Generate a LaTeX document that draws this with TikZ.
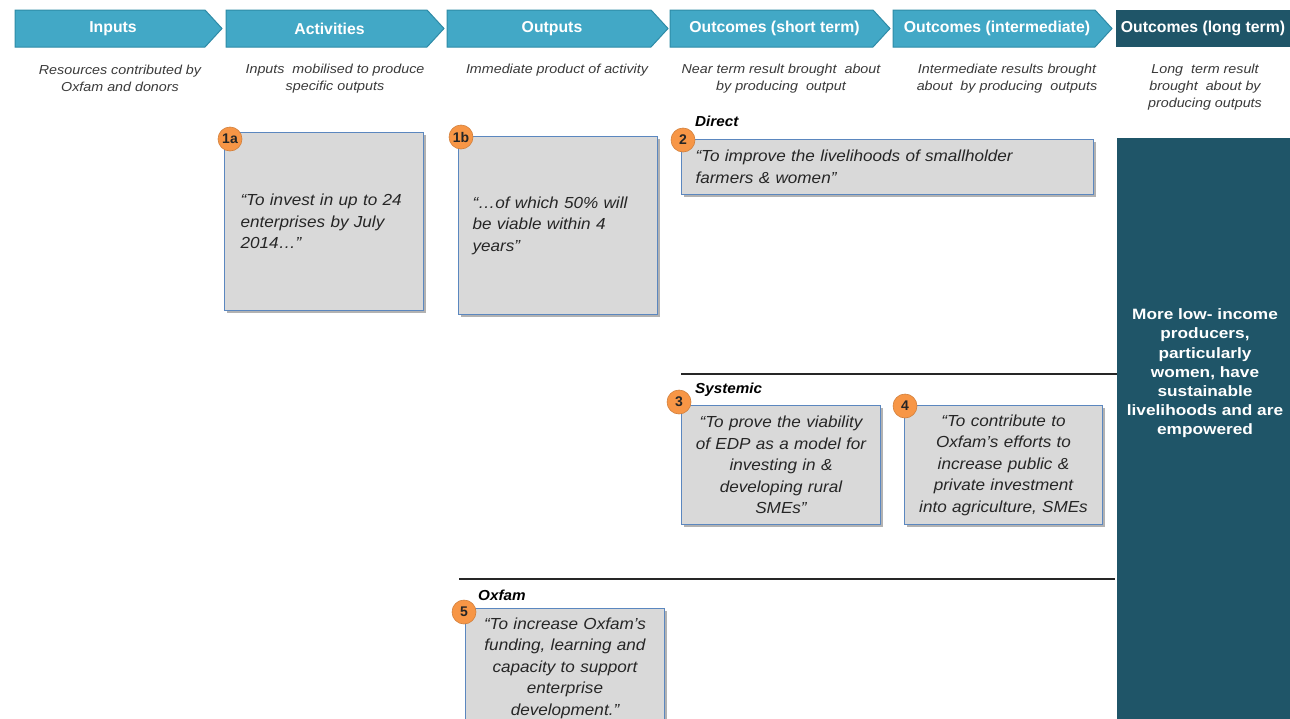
\documentclass[tikz,border=0pt]{standalone}
\usepackage{fontspec}
\setmainfont{Liberation Sans}
\newfontfamily\descfont[FakeStretch=1.1]{Liberation Sans}
\newfontfamily\quotefont[FakeStretch=1.07]{Liberation Sans}
\newfontfamily\ltfont[FakeStretch=1.15]{Liberation Sans}
\newfontfamily\grpfont[FakeStretch=1.05]{Liberation Sans}
\usetikzlibrary{shadows}
\definecolor{tealA}{HTML}{42A8C6}
\definecolor{tealAd}{HTML}{2E8BA7}
\definecolor{tealdark}{HTML}{1F5568}
\definecolor{boxgray}{HTML}{D9D9D9}
\definecolor{boxblue}{HTML}{5B87BF}
\definecolor{badgeor}{HTML}{F79646}
\definecolor{desc}{HTML}{3A3A3A}
\newcommand{\mychev}[4]{%
  \draw[chevshape] (#1,10) -- (#2-17,10) -- (#2,28.5) -- (#2-17,47) -- (#1,47) -- cycle;
  \node[chevtext] (#4) at ({(#1+#2-17)/2+3},28.5) {#3};}
\begin{document}
\begin{tikzpicture}[x=1pt,y=-1pt,
 chevshape/.style={fill=tealA,draw=tealAd,line width=1pt},
 chevtext/.style={text=white,font=\fontsize{15.8}{18}\selectfont\bfseries,inner sep=0pt},
 desctext/.style={text=desc,font=\descfont\fontsize{13}{17}\selectfont\itshape,align=center,inner sep=0pt},
 quotebox/.style={draw=boxblue,line width=1pt,fill=boxgray,
   drop shadow={shadow xshift=2pt,shadow yshift=-2.5pt,opacity=0.3,fill=black},
   text=black!85,font=\quotefont\fontsize{16}{21.5}\selectfont\itshape,inner ysep=0pt,anchor=north west},
 badgenode/.style={circle,fill=badgeor,draw=badgeor!85!black,line width=0.6pt,minimum size=24pt,inner sep=0pt,
   font=\fontsize{14}{14}\selectfont\bfseries,text=black!85},
 grouplabel/.style={font=\grpfont\fontsize{14.5}{16}\selectfont\bfseries\itshape,anchor=west,inner sep=0pt},
 divider/.style={line width=1.2pt,draw=black!85}]
\useasboundingbox (0,0) rectangle (1290,718);
\clip (0,0) rectangle (1290,718);
\fill[white] (0,0) rectangle (1290,718);

% header chevrons
\mychev{15}{222}{Inputs}{hIn}
\mychev{226}{444}{Activities}{hAct}
\mychev{447}{668}{Outputs}{hOut}
\mychev{670}{890}{Outcomes (short term)}{hShort}
\mychev{893}{1112}{Outcomes (intermediate)}{hInt}
\node[fill=tealdark,anchor=north west,minimum width=174pt,minimum height=37pt,inner sep=0pt] (hLongBox) at (1116,10) {};
\node[chevtext] (hLong) at (1203,28.5) {Outcomes (long term)};

% descriptions
\node[desctext] (dIn) at (120,78.5) {Resources contributed by\\Oxfam and donors};
\node[desctext] (dAct) at (335,78.5) {Inputs\ \ mobilised to produce\\specific outputs};
\node[desctext] (dOut) at (557,70) {Immediate product of activity};
\node[desctext] (dShort) at (781,78.5) {Near term result brought\ \ about\\by producing\ \ output};
\node[desctext] (dInt) at (1007,78.5) {Intermediate results brought\\about\ \ by producing\ \ outputs};
\node[desctext] (dLong) at (1205,87) {Long\ \ term result\\brought\ \ about by\\producing outputs};

% long-term outcome box
\node[fill=tealdark,anchor=north west,minimum width=174pt,minimum height=600pt,inner sep=0pt] (lt) at (1117,138) {};
\node[text=white,font=\ltfont\fontsize{15}{19.2}\selectfont\bfseries,align=center,inner sep=0pt] (ltText) at (1205,373.5)
 {More low- income\\producers,\\particularly\\women, have\\sustainable\\livelihoods and are\\empowered};

% quote boxes
\node[quotebox,minimum width=199pt,minimum height=178pt,text width=167pt,inner xsep=16pt,align=left] (b1a) at (224,132)
 {“To invest in up to 24\\enterprises by July\\2014…”};
\node[quotebox,minimum width=199pt,minimum height=178pt,text width=171pt,inner xsep=14pt,align=left] (b1b) at (458,136)
 {“…of which 50\% will\\be viable within 4\\years”};
\node[quotebox,minimum width=412pt,minimum height=55pt,text width=384pt,inner xsep=14pt,align=left] (b2) at (681,139)
 {“To improve the livelihoods of smallholder\\farmers \& women”};
\node[quotebox,minimum width=199pt,minimum height=119pt,text width=193pt,inner xsep=3pt,align=center] (b3) at (681,405)
 {“To prove the viability\\of EDP as a model for\\investing in \&\\developing rural\\SMEs”};
\node[quotebox,minimum width=198pt,minimum height=119pt,text width=194pt,inner xsep=2pt,align=center] (b4) at (904,405)
 {“To contribute to\\Oxfam’s efforts to\\increase public \&\\private investment\\into agriculture, SMEs};
\node[quotebox,minimum width=199pt,minimum height=119pt,text width=193pt,inner xsep=3pt,align=center] (b5) at (465,608)
 {“To increase Oxfam’s\\funding, learning and\\capacity to support\\enterprise\\development.”};

% badges
\node[badgenode] (n1a) at (230,139) {1a};
\node[badgenode] (n1b) at (461,137) {1b};
\node[badgenode] (n2) at (683,140) {2};
\node[badgenode] (n3) at (679,402) {3};
\node[badgenode] (n4) at (905,406) {4};
\node[badgenode] (n5) at (464,612) {5};

% group labels
\node[grouplabel] (gDirect) at (695,121) {Direct};
\node[grouplabel] (gSys) at (695,390) {Systemic};
\node[grouplabel] (gOx) at (478,595) {Oxfam};

% dividers
\coordinate (d1a) at (681,374);
\coordinate (d2a) at (459,579);
\coordinate (d2b) at (1115,579);
\draw[divider] (d1a) -- (d1a -| lt.west);
\draw[divider] (d2a) -- (d2b);
\end{tikzpicture}
\end{document}
